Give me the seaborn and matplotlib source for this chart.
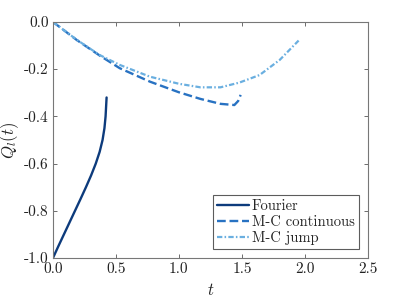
import numpy as np
import pandas as pd
import seaborn as sns
import matplotlib
matplotlib.use("Agg")
import matplotlib.pyplot as plt

fourier_t = [0.0, 0.043, 0.087, 0.131, 0.175, 0.219, 0.262, 0.303, 0.34, 0.371, 0.394, 0.409, 0.418, 0.423, 0.426]
fourier_q = [-1.0, -0.95, -0.9, -0.85, -0.8, -0.75, -0.7, -0.65, -0.6, -0.55, -0.5, -0.45, -0.4, -0.35, -0.32]

cont_t = [0.0, 0.19, 0.37, 0.53, 0.77, 1.0, 1.17, 1.33, 1.44, 1.47, 1.49]
cont_q = [0.0, -0.077, -0.142, -0.196, -0.253, -0.298, -0.326, -0.347, -0.352, -0.335, -0.309]

jump_t = [0.0, 0.19, 0.37, 0.53, 0.77, 1.0, 1.17, 1.33, 1.48, 1.64, 1.80, 1.95]
jump_q = [0.0, -0.076, -0.14, -0.182, -0.232, -0.262, -0.277, -0.277, -0.257, -0.225, -0.161, -0.079]

labels = ["Fourier", "M-C continuous", "M-C jump"]
colors = ["#0d3b7c", "#2872c2", "#6aafe0"]

sns.set_theme(style="white")
plt.rcParams["font.family"] = ["cmr10", "DejaVu Serif"]
plt.rcParams["mathtext.fontset"] = "cm"

fig = plt.figure(figsize=(4.07, 3.04), dpi=100)
ax = fig.add_axes([0.130, 0.151, 0.774, 0.777])

df = pd.concat([
    pd.DataFrame({"t": fourier_t, "q": fourier_q, "s": labels[0]}),
    pd.DataFrame({"t": cont_t, "q": cont_q, "s": labels[1]}),
    pd.DataFrame({"t": jump_t, "q": jump_q, "s": labels[2]}),
])

line_kw = [
    dict(linestyle="-", linewidth=1.7),
    dict(linestyle="--", linewidth=1.7),
    dict(linestyle=(0, (2.4, 1.0, 0.7, 1.0)), linewidth=1.6),
]
for lab, col, kw in zip(labels, colors, line_kw):
    d = df[df.s == lab]
    sns.lineplot(data=d, x="t", y="q", ax=ax, color=col, label=lab,
                 sort=False, estimator=None, **kw)

ax.set_xlim(0, 2.5)
ax.set_ylim(-1.0, 0.0)
ax.set_xticks([0, 0.5, 1.0, 1.5, 2.0, 2.5])
ax.set_xticklabels(["0.0", "0.5", "1.0", "1.5", "2.0", "2.5"])
ax.set_yticks([-1.0, -0.8, -0.6, -0.4, -0.2, 0.0])
ax.set_yticklabels(["-1.0", "-0.8", "-0.6", "-0.4", "-0.2", "0.0"])
ax.tick_params(direction="in", length=3, width=0.6, colors="#555555",
               labelcolor="#222222", labelsize=11, top=True, right=True,
               bottom=True, left=True, pad=3)
for sp in ax.spines.values():
    sp.set_color("#777777")
    sp.set_linewidth(0.8)
ax.set_xlabel("$t$", fontsize=12, color="#222222", labelpad=4)
ax.set_ylabel("$Q_l(t)$", fontsize=12, color="#222222", labelpad=2)

leg = ax.legend(loc="lower right", fontsize=10.5, frameon=True, fancybox=False,
                handlelength=2.2, handletextpad=0.2, borderpad=0.3,
                labelspacing=0.15, borderaxespad=0.6)
leg.get_frame().set_edgecolor("#333333")
leg.get_frame().set_linewidth(0.8)

fig.savefig("out.png", dpi=100)
